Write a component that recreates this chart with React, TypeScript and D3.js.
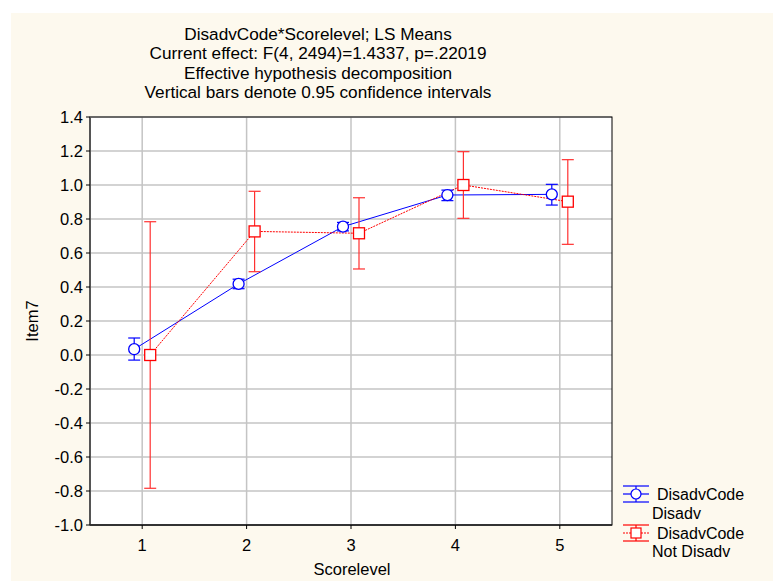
import React from "react";
import * as d3 from "d3";

const categories = [1, 2, 3, 4, 5];
const disadvMeans = [0.034, 0.418, 0.755, 0.941, 0.945];
const disadvLower = [-0.03, 0.39, 0.73, 0.908, 0.882];
const disadvUpper = [0.10, 0.446, 0.78, 0.97, 1.004];
const notDisadvMeans = [0.0, 0.727, 0.716, 1.0, 0.902];
const notDisadvLower = [-0.784, 0.49, 0.506, 0.804, 0.651];
const notDisadvUpper = [0.784, 0.963, 0.925, 1.196, 1.149];
const yTicks = [-1.0, -0.8, -0.6, -0.4, -0.2, 0.0, 0.2, 0.4, 0.6, 0.8, 1.0, 1.2, 1.4];
const titleLines = [
  "DisadvCode*Scorelevel; LS Means",
  "Current effect: F(4, 2494)=1.4337, p=.22019",
  "Effective hypothesis decomposition",
  "Vertical bars denote 0.95 confidence intervals",
];

const W = 773, H = 581;
const L = 90, R = 612, T = 117, B = 525;
const FONT = "Liberation Sans, Arial, sans-serif";

export default function App() {
  const x = d3.scaleLinear().domain([0.5, 5.5]).range([L, R]);
  const y = d3.scaleLinear().domain([-1.0, 1.4]).range([B, T]);
  const off = 8;
  const cap = 6;
  const blueX = (c: number) => x(c) - off;
  const redX = (c: number) => x(c) + off;
  const blueLine = d3.line<number>().x((_, i) => blueX(categories[i])).y((d) => y(d))(disadvMeans) || "";
  const redLine = d3.line<number>().x((_, i) => redX(categories[i])).y((d) => y(d))(notDisadvMeans) || "";

  return (
    <svg width={W} height={H} style={{ position: "absolute", left: 0, top: 0 }} fontFamily={FONT}>
      <rect x={0} y={0} width={W} height={H} fill="#ffffff" />
      <rect x={11} y={13} width={W - 11} height={H - 13} fill="#fdf9ee" />
      {titleLines.map((t, i) => (
        <text key={i} x={318} y={40 + i * 19.3} textAnchor="middle" fontSize={17.2} fill="#000">{t}</text>
      ))}
      <rect x={L} y={T} width={R - L} height={B - T} fill="#ffffff" />
      {yTicks.map((v, i) => (
        <line key={"gy" + i} x1={L} x2={R} y1={y(v)} y2={y(v)} stroke="#c4c4c4" strokeWidth={1.5} />
      ))}
      {categories.map((c) => (
        <line key={"gx" + c} x1={x(c)} x2={x(c)} y1={T} y2={B} stroke="#c4c4c4" strokeWidth={1.5} />
      ))}
      <rect x={L} y={T} width={R - L} height={B - T} fill="none" stroke="#000" strokeWidth={1} />
      <line x1={L} x2={L} y1={T} y2={B} stroke="#555" strokeWidth={2} />
      <line x1={L} x2={R} y1={B} y2={B} stroke="#222" strokeWidth={1.5} />
      {yTicks.map((v, i) => (
        <g key={"ty" + i}>
          <line x1={L - 4} x2={L} y1={y(v)} y2={y(v)} stroke="#000" />
          <text x={L - 7} y={y(v) + 6} textAnchor="end" fontSize={16.5} fill="#000">{v.toFixed(1)}</text>
        </g>
      ))}
      {categories.map((c) => (
        <g key={"tx" + c}>
          <line x1={x(c)} x2={x(c)} y1={B} y2={B + 4} stroke="#000" />
          <text x={x(c)} y={B + 26} textAnchor="middle" fontSize={16.5} fill="#000">{c}</text>
        </g>
      ))}
      <text x={352} y={575} textAnchor="middle" fontSize={16.5} fill="#000">Scorelevel</text>
      <text transform={`translate(38,${y(0.2)}) rotate(-90)`} textAnchor="middle" fontSize={16.5} fill="#000">Item7</text>

      <path d={blueLine} fill="none" stroke="#0000ff" strokeWidth={1} />
      <path d={redLine} fill="none" stroke="#ff0000" strokeWidth={1} strokeDasharray="2,1" />

      {categories.map((c, i) => (
        <g key={"eb" + c} stroke="#0000ff" strokeWidth={1.2}>
          <line x1={blueX(c)} x2={blueX(c)} y1={y(disadvLower[i])} y2={y(disadvUpper[i])} />
          <line x1={blueX(c) - cap} x2={blueX(c) + cap} y1={y(disadvLower[i])} y2={y(disadvLower[i])} />
          <line x1={blueX(c) - cap} x2={blueX(c) + cap} y1={y(disadvUpper[i])} y2={y(disadvUpper[i])} />
        </g>
      ))}
      {categories.map((c, i) => (
        <g key={"er" + c} stroke="#ff3030" strokeWidth={1.2}>
          <line x1={redX(c)} x2={redX(c)} y1={y(notDisadvLower[i])} y2={y(notDisadvUpper[i])} />
          <line x1={redX(c) - cap} x2={redX(c) + cap} y1={y(notDisadvLower[i])} y2={y(notDisadvLower[i])} />
          <line x1={redX(c) - cap} x2={redX(c) + cap} y1={y(notDisadvUpper[i])} y2={y(notDisadvUpper[i])} />
        </g>
      ))}
      {categories.map((c, i) => (
        <circle key={"cb" + c} cx={blueX(c)} cy={y(disadvMeans[i])} r={5.5} fill="#fff" stroke="#0000ff" strokeWidth={1.3} />
      ))}
      {categories.map((c, i) => (
        <rect key={"sr" + c} x={redX(c) - 5.5} y={y(notDisadvMeans[i]) - 5.5} width={11} height={11} fill="#fff" stroke="#ff0000" strokeWidth={1.3} />
      ))}

      {/* Legend */}
      <g>
        <g stroke="#0000ff" strokeWidth={1.2}>
          <line x1={623} x2={649} y1={486} y2={486} />
          <line x1={623} x2={649} y1={502} y2={502} />
          <line x1={623} x2={649} y1={494} y2={494} />
          <line x1={636} x2={636} y1={486} y2={502} />
          <circle cx={636} cy={494} r={5} fill="#fff" />
        </g>
        <text x={657} y={500} fontSize={16} fill="#000">DisadvCode</text>
        <text x={652} y={519} fontSize={16} fill="#000">Disadv</text>
        <g stroke="#ff0000" strokeWidth={1.2}>
          <line x1={623} x2={649} y1={525} y2={525} />
          <line x1={623} x2={649} y1={541} y2={541} />
          <line x1={623} x2={649} y1={533} y2={533} strokeDasharray="2,1" />
          <line x1={636} x2={636} y1={525} y2={541} />
          <rect x={631} y={528} width={10} height={10} fill="#fff" />
        </g>
        <text x={657} y={539} fontSize={16} fill="#000">DisadvCode</text>
        <text x={652} y={557} fontSize={16} fill="#000">Not Disadv</text>
      </g>
    </svg>
  );
}
